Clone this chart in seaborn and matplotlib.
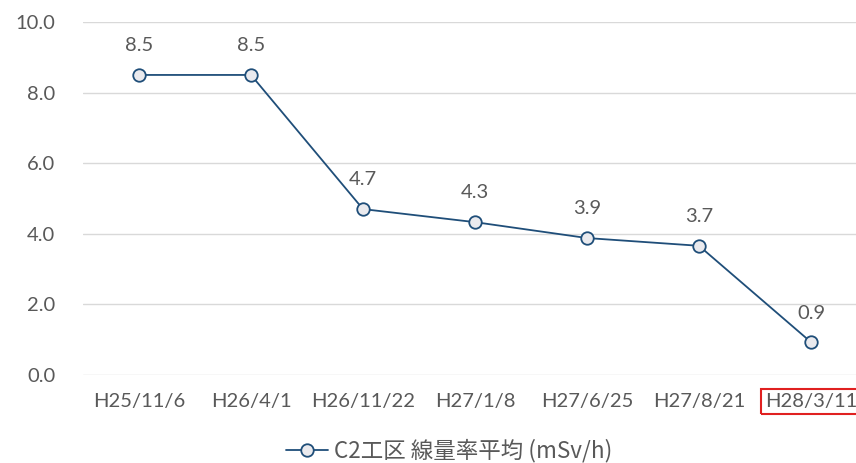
import matplotlib
matplotlib.use("Agg")
import matplotlib.pyplot as plt
import seaborn as sns
import pandas as pd
from matplotlib.lines import Line2D

dates = ["H25/11/6", "H26/4/1", "H26/11/22", "H27/1/8", "H27/6/25", "H27/8/21", "H28/3/11"]
values = [8.5, 8.5, 4.7, 4.33, 3.88, 3.66, 0.93]
series_name = "C2工区 線量率平均 (mSv/h)"

df = pd.DataFrame({"x": list(range(len(dates))), "y": values})

sns.set_theme(style="white")
plt.rcParams['font.family'] = ['Lato', 'Noto Sans CJK JP', 'DejaVu Sans']

line_color = "#1F4E79"
text_color = "#595959"
fs = 14.5

fig = plt.figure(figsize=(8.56, 4.63), dpi=100)
ax = fig.add_axes([83/856, 1-375/463, 1-83/856, (375-22)/463])

sns.lineplot(data=df, x="x", y="y", ax=ax, color=line_color, linewidth=1.3,
             marker="o", markersize=9, markerfacecolor="#EAEAEE",
             markeredgecolor=line_color, markeredgewidth=1.3, clip_on=False)

for xi, yi in zip(df["x"], df["y"]):
    ax.annotate(f"{yi:.1f}", (xi, yi), xytext=(0, 21), textcoords="offset points",
                ha="center", va="center", fontsize=fs, color=text_color)

ax.set_ylim(0, 10)
ax.set_xlim(-0.5, (856-83)/112 - 0.5)
ax.set_yticks([0, 2, 4, 6, 8, 10])
ax.set_yticklabels([f"{v:.1f}" for v in [0, 2, 4, 6, 8, 10]])
ax.set_xticks(range(len(dates)))
ax.set_xticklabels(dates)
ax.tick_params(axis="y", length=0, pad=20, labelsize=fs, labelcolor=text_color)
ax.tick_params(axis="x", length=0, pad=13, labelsize=fs, labelcolor=text_color)
ax.yaxis.grid(True, color="#D9D9D9", linewidth=1)
ax.xaxis.grid(False)
for s in ax.spines.values():
    s.set_visible(False)
ax.set_xlabel("")
ax.set_ylabel("")

last = ax.get_xticklabels()[-1]
last.set_bbox(dict(facecolor="none", edgecolor="#E02020", linewidth=1.5, boxstyle="square,pad=0.2"))

handle = Line2D([], [], color=line_color, linewidth=1.3, marker="o", markersize=9,
                markerfacecolor="#EAEAEE", markeredgecolor=line_color, markeredgewidth=1.3)
leg = fig.legend([handle], [series_name], loc="center", bbox_to_anchor=(449/856, 1-451/463),
                 frameon=False, fontsize=16.2, handlelength=1.9, handletextpad=0.25)
for t in leg.get_texts():
    t.set_color(text_color)
    t.set_family(['Noto Sans CJK JP', 'DejaVu Sans'])

fig.savefig("out.png", dpi=100)
